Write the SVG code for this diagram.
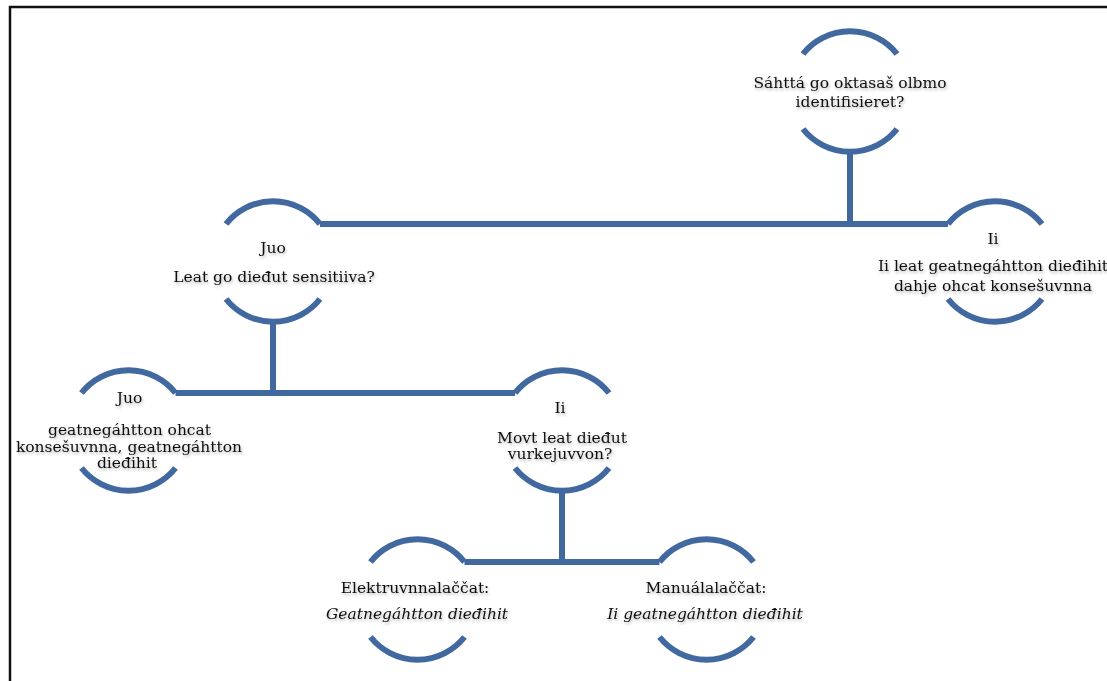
<svg xmlns="http://www.w3.org/2000/svg" width="1107" height="681" viewBox="0 0 1107 681">
<defs>
<filter id="sh" x="-10%" y="-30%" width="120%" height="180%">
<feGaussianBlur in="SourceAlpha" stdDeviation="1.8"/>
<feOffset dx="1" dy="2" result="b"/>
<feComponentTransfer><feFuncA type="linear" slope="0.3"/></feComponentTransfer>
<feMerge><feMergeNode/><feMergeNode in="SourceGraphic"/></feMerge>
</filter>
</defs>
<style>
.arc{fill:none;stroke:#4169A0;stroke-width:6}
.ln{fill:none;stroke:#4169A0;stroke-width:6}
text{font-family:"DejaVu Serif","Liberation Serif",serif;font-size:15.5px;fill:#111;text-anchor:middle}
.it{font-style:italic}
.lbl{filter:url(#sh)}
</style>
<rect x="0" y="0" width="1107" height="681" fill="#fff"/>
<path d="M10,700 V7 H1120" fill="none" stroke="#111" stroke-width="2.5"/>
<g id="connectors">
<path class="ln" d="M850,151.5 V224"/>
<path class="ln" d="M320,224 H948"/>
<path class="ln" d="M273,321.5 V393"/>
<path class="ln" d="M175.5,393 H515"/>
<path class="ln" d="M562,490.5 V562"/>
<path class="ln" d="M464.5,562 H659.5"/>
</g>
<g id="n-top">
<path class="arc" d="M803,54 A60 60 0 0 1 897,54"/>
<path class="arc" d="M803,129 A60 60 0 0 0 897,129"/>
<g class="lbl"><text x="850" y="88">Sáhttá go oktasaš olbmo</text>
<text x="850" y="107">identifisieret?</text></g>
</g>
<g id="n-juo1">
<path class="arc" d="M226,224 A60 60 0 0 1 320,224"/>
<path class="arc" d="M226,299 A60 60 0 0 0 320,299"/>
<g class="lbl"><text x="273" y="253">Juo</text>
<text x="274" y="282">Leat go dieđut sensitiiva?</text></g>
</g>
<g id="n-ii1">
<path class="arc" d="M948,224 A60 60 0 0 1 1042,224"/>
<path class="arc" d="M948,299 A60 60 0 0 0 1042,299"/>
<g class="lbl"><text x="993" y="244">Ii</text>
<text x="993" y="271">Ii leat geatnegáhtton dieđihit</text>
<text x="993" y="291">dahje ohcat konsešuvnna</text></g>
</g>
<g id="n-juo2">
<path class="arc" d="M81.5,393 A60 60 0 0 1 175.5,393"/>
<path class="arc" d="M81.5,468 A60 60 0 0 0 175.5,468"/>
<g class="lbl"><text x="129.5" y="403">Juo</text>
<text x="129.5" y="435">geatnegáhtton ohcat</text>
<text x="129" y="452">konsešuvnna, geatnegáhtton</text>
<text x="127" y="468">dieđihit</text></g>
</g>
<g id="n-ii2">
<path class="arc" d="M515,393 A60 60 0 0 1 609,393"/>
<path class="arc" d="M515,468 A60 60 0 0 0 609,468"/>
<g class="lbl"><text x="560" y="413">Ii</text>
<text x="562" y="443">Movt leat dieđut</text>
<text x="560" y="459">vurkejuvvon?</text></g>
</g>
<g id="n-elek">
<path class="arc" d="M370.5,562 A60 60 0 0 1 464.5,562"/>
<path class="arc" d="M370.5,637 A60 60 0 0 0 464.5,637"/>
<g class="lbl"><text x="415" y="593">Elektruvnnalaččat:</text>
<text class="it" x="417" y="619">Geatnegáhtton dieđihit</text></g>
</g>
<g id="n-man">
<path class="arc" d="M659.5,562 A60 60 0 0 1 753.5,562"/>
<path class="arc" d="M659.5,637 A60 60 0 0 0 753.5,637"/>
<g class="lbl"><text x="706" y="593">Manuálalaččat:</text>
<text class="it" x="705" y="619">Ii geatnegáhtton dieđihit</text></g>
</g>
</svg>
